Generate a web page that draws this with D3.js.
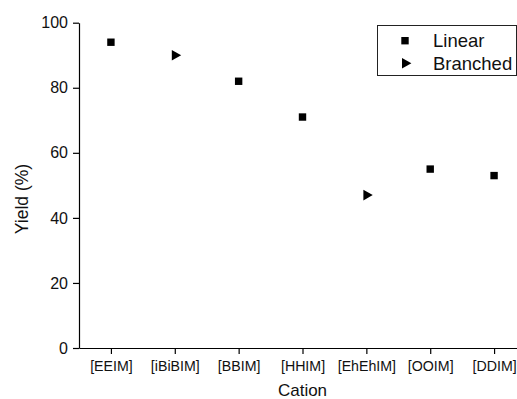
<!DOCTYPE html>
<html>
<head>
<meta charset="utf-8">
<script src="https://cdn.jsdelivr.net/npm/d3@7"></script>
<style>
  html, body { margin: 0; padding: 0; background: #fff; }
  svg { display: block; }
  text { font-family: "Liberation Sans", Arial, sans-serif; fill: #111; }
</style>
</head>
<body>
<svg id="chart" width="517" height="399"></svg>
<script>
const categories = ["[EEIM]", "[iBiBIM]", "[BBIM]", "[HHIM]", "[EhEhIM]", "[OOIM]", "[DDIM]"];
const linearCats = ["[EEIM]", "[BBIM]", "[HHIM]", "[OOIM]", "[DDIM]"];
const linearValues = [94, 82, 71, 55, 53];
const branchedCats = ["[iBiBIM]", "[EhEhIM]"];
const branchedValues = [90, 47];
const yTicks = [0, 20, 40, 60, 80, 100];
const legendLabels = ["Linear", "Branched"];

(function () {
const svg = d3.select("#chart");
const mLeft = 79, mRight = 526, mTop = 22.7, mBottom = 348;

const x = d3.scalePoint().domain(categories).range([mLeft, mRight]).padding(0.5);
const y = d3.scaleLinear().domain([0, 100]).range([mBottom, mTop]);

// Y axis
const gy = svg.append("g").attr("transform", `translate(${mLeft},0)`)
  .call(d3.axisLeft(y).tickValues(yTicks).tickSize(6).tickSizeOuter(0).tickPadding(5));
gy.selectAll("text").style("font-size", "16px").attr("fill", "#111");
gy.selectAll("line, path").attr("stroke", "#000").attr("stroke-width", 1.2);

// X axis
const gx = svg.append("g").attr("transform", `translate(0,${mBottom})`)
  .call(d3.axisBottom(x).tickSize(6).tickSizeOuter(0).tickPadding(7));
gx.selectAll("text").style("font-size", "14.2px").attr("fill", "#111");
gx.selectAll("line, path").attr("stroke", "#000").attr("stroke-width", 1.2);

// Axis titles
svg.append("text").attr("x", (mLeft + mRight) / 2).attr("y", 395.5)
  .attr("text-anchor", "middle").style("font-size", "17px").text("Cation");
svg.append("text").attr("transform", "translate(28,199) rotate(-90)")
  .attr("text-anchor", "middle").style("font-size", "17.5px").text("Yield (%)");

// Markers
const sq = 7.4;
const triPath = "M-4,-5.3L5.4,0L-4,5.3Z";

svg.append("g").selectAll("rect").data(linearCats.map((c, i) => [c, linearValues[i]]))
  .join("rect")
  .attr("x", d => x(d[0]) - sq / 2).attr("y", d => y(d[1]) - sq / 2)
  .attr("width", sq).attr("height", sq).attr("fill", "#000");

svg.append("g").selectAll("path").data(branchedCats.map((c, i) => [c, branchedValues[i]]))
  .join("path")
  .attr("d", triPath)
  .attr("transform", d => `translate(${x(d[0]) + 1},${y(d[1])})`)
  .attr("fill", "#000");

// Legend
const lg = svg.append("g");
lg.append("rect").attr("x", 377.5).attr("y", 25.5).attr("width", 139).attr("height", 50)
  .attr("fill", "#fff").attr("stroke", "#222").attr("stroke-width", 1);
lg.append("rect").attr("x", 405 - sq / 2).attr("y", 40.7 - sq / 2).attr("width", sq).attr("height", sq).attr("fill", "#000");
lg.append("path").attr("d", triPath).attr("transform", "translate(406,63.3)").attr("fill", "#000");
lg.selectAll("text.lab").data(legendLabels).join("text").attr("class", "lab")
  .attr("x", 433).attr("y", (d, i) => i === 0 ? 46.7 : 70)
  .style("font-size", "18.5px").text(d => d);
})();
</script>
</body>
</html>
